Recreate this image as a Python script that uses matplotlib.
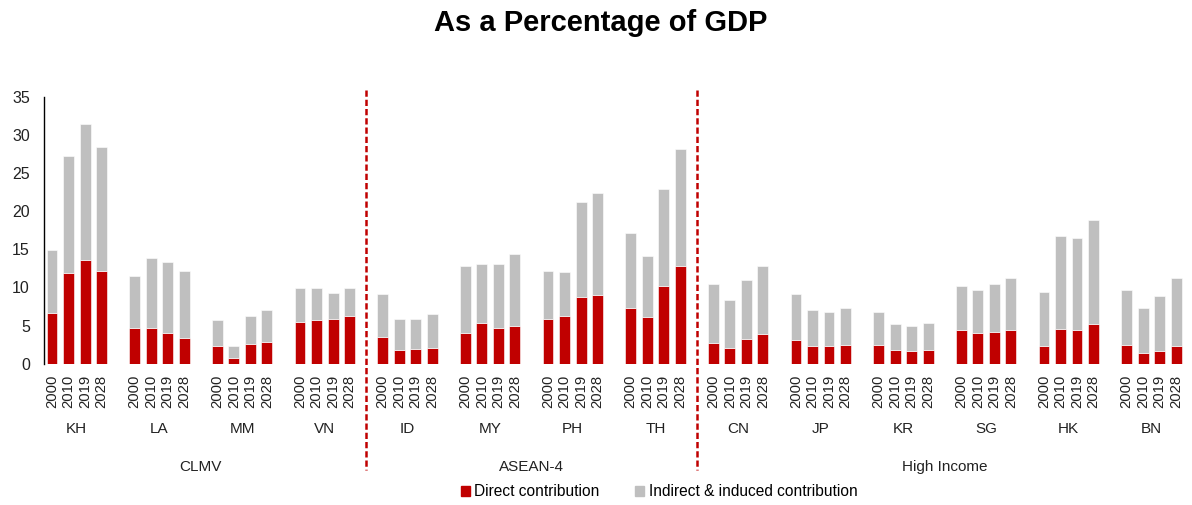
import matplotlib
matplotlib.use("Agg")
from matplotlib import pyplot as plt
from matplotlib import transforms
import numpy as np

plt.rcParams['font.family'] = ['Liberation Sans', 'DejaVu Sans']

years = ['2000', '2010', '2019', '2028']
countries = ['KH', 'LA', 'MM', 'VN', 'ID', 'MY', 'PH', 'TH',
             'CN', 'JP', 'KR', 'SG', 'HK', 'BN']
groups = ['CLMV', 'ASEAN-4', 'High Income']
group_sizes = [4, 4, 6]

# direct contribution (% of GDP), per country, years 2000/2010/2019/2028
direct = [
    [6.6, 11.9, 13.6, 12.1],   # KH
    [4.7, 4.7, 4.0, 3.4],      # LA
    [2.3, 0.8, 2.6, 2.9],      # MM
    [5.5, 5.7, 5.9, 6.2],      # VN
    [3.5, 1.8, 1.9, 2.1],      # ID
    [4.0, 5.3, 4.7, 5.0],      # MY
    [5.8, 6.3, 8.7, 9.0],      # PH
    [7.3, 6.1, 10.2, 12.8],    # TH
    [2.7, 2.1, 3.2, 3.9],      # CN
    [3.1, 2.3, 2.3, 2.4],      # JP
    [2.4, 1.8, 1.6, 1.8],      # KR
    [4.4, 4.0, 4.2, 4.4],      # SG
    [2.3, 4.5, 4.4, 5.2],      # HK
    [2.4, 1.4, 1.6, 2.3],      # BN
]
# total contribution (top of stacked bar)
total = [
    [14.9, 27.2, 31.4, 28.4],
    [11.5, 13.9, 13.4, 12.1],
    [5.7, 2.3, 6.3, 7.0],
    [9.9, 9.9, 9.3, 9.9],
    [9.1, 5.8, 5.8, 6.5],
    [12.8, 13.1, 13.1, 14.4],
    [12.1, 12.0, 21.2, 22.4],
    [17.2, 14.1, 22.9, 28.2],
    [10.5, 8.3, 11.0, 12.8],
    [9.1, 7.0, 6.8, 7.3],
    [6.8, 5.2, 4.9, 5.3],
    [10.2, 9.7, 10.5, 11.3],
    [9.4, 16.8, 16.5, 18.9],
    [9.6, 7.3, 8.9, 11.3],
]

red = '#C00000'
grey = '#BFBFBF'

direct = np.array(direct)
indirect = np.array(total) - direct

fig = plt.figure(figsize=(11.92, 5.05), dpi=100)
ax = fig.add_axes([0.0367, 0.280, 0.957, 0.528])

nyr = len(years)
xs, labels = [], []
for i in range(len(countries)):
    pos = i * (nyr + 1) + np.arange(nyr)
    ax.bar(pos, direct[i], width=0.66, color=red, edgecolor='white', linewidth=0.4)
    ax.bar(pos, indirect[i], bottom=direct[i], width=0.66, color=grey,
           edgecolor='white', linewidth=0.4)
    xs.extend(pos)
    labels.extend(years)

ax.set_xlim(-0.5, len(countries) * (nyr + 1) - 1.5)
ax.set_ylim(0, 35)
ax.set_yticks(range(0, 36, 5))
ax.tick_params(axis='y', labelsize=11.5, length=0, pad=10, labelcolor='#222222')
ax.set_xticks(xs)
ax.set_xticklabels(labels, rotation=90, fontsize=10.7, color='#222222')
ax.tick_params(axis='x', length=0, pad=8)
for s in ['top', 'right', 'bottom']:
    ax.spines[s].set_visible(False)
ax.spines['left'].set_linewidth(1.0)

trans = transforms.blended_transform_factory(ax.transData, ax.transAxes)
for i, c in enumerate(countries):
    cx = i * (nyr + 1) + (nyr - 1) / 2
    ax.text(cx, -0.245, c, transform=trans, ha='center', va='center',
            fontsize=11, color='#222222')

start = 0
for g, n in zip(groups, group_sizes):
    first = start * (nyr + 1)
    last = (start + n - 1) * (nyr + 1) + nyr - 1
    ax.text((first + last) / 2, -0.388, g, transform=trans, ha='center',
            va='center', fontsize=11, color='#222222')
    if start > 0:
        ax.plot([first - 1, first - 1], [1.025, -0.40], transform=trans,
                color=red, linestyle=(0, (2.5, 1.2)), linewidth=1.8, clip_on=False)
    start += n

h1 = plt.Rectangle((0, 0), 1, 1, color=red)
h2 = plt.Rectangle((0, 0), 1, 1, color=grey)
fig.legend([h1, h2], ['Direct contribution', 'Indirect & induced contribution'],
           loc='center', bbox_to_anchor=(0.553, 0.026), ncol=2, frameon=False,
           fontsize=11.2, handlelength=0.55, handleheight=0.55, handletextpad=0.3,
           columnspacing=2.3)

fig.text(0.504, 0.955, 'As a Percentage of GDP', ha='center', va='center',
         fontsize=21, fontweight='bold')

fig.savefig('out.png', dpi=100)
